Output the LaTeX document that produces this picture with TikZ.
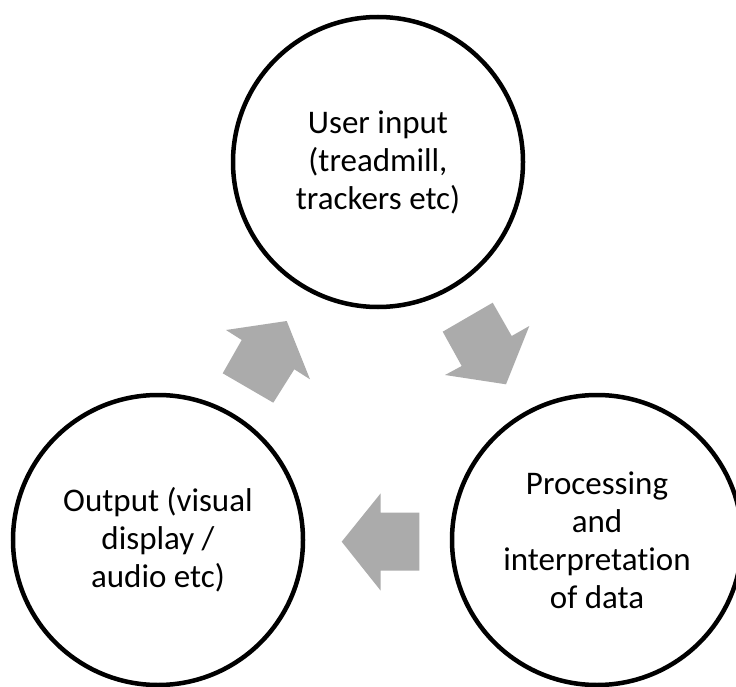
\documentclass[tikz,border=0pt]{standalone}
\usepackage{fontspec}
\setmainfont[RawFeature={-liga;-dlig}]{Carlito}
\definecolor{arrowgray}{RGB}{171,171,171}
\begin{document}
\begin{tikzpicture}[x=1pt,y=-1pt,
  stage/.style={circle,draw=black,line width=4.5pt,minimum size=290pt,inner sep=0pt,
    align=center,font=\fontsize{33}{38}\selectfont},
  blockarrow/.style={fill=arrowgray,draw=none}]
\useasboundingbox (0,0) rectangle (736,687);
\node[stage] (top) at (378,162) {User input\\(treadmill,\\trackers etc)};
\node[stage] (right) at (597,540) {Processing\\and\\interpretation\\of data};
\node[stage] (left) at (158,540) {Output (visual\\display /\\audio etc)};
% arrow from output to user input
\fill[blockarrow] (226,330) -- (286.7,321) -- (310,379.3) -- (294.3,369.3) -- (273.3,402.7) -- (222.7,373.3) -- (241.7,340) -- cycle;
% arrow from user input to processing
\fill[blockarrow] (442.7,331.7) -- (492.7,302.7) -- (511.7,336) -- (529.3,326) -- (506,384.3) -- (445,375) -- (461.7,366) -- cycle;
% arrow from processing to output
\fill[blockarrow] (341.7,541.7) -- (380.7,493.3) -- (380.7,512.7) -- (419.3,512.7) -- (419.3,570.7) -- (380.7,570.7) -- (380.7,590.7) -- cycle;
\end{tikzpicture}
\end{document}
